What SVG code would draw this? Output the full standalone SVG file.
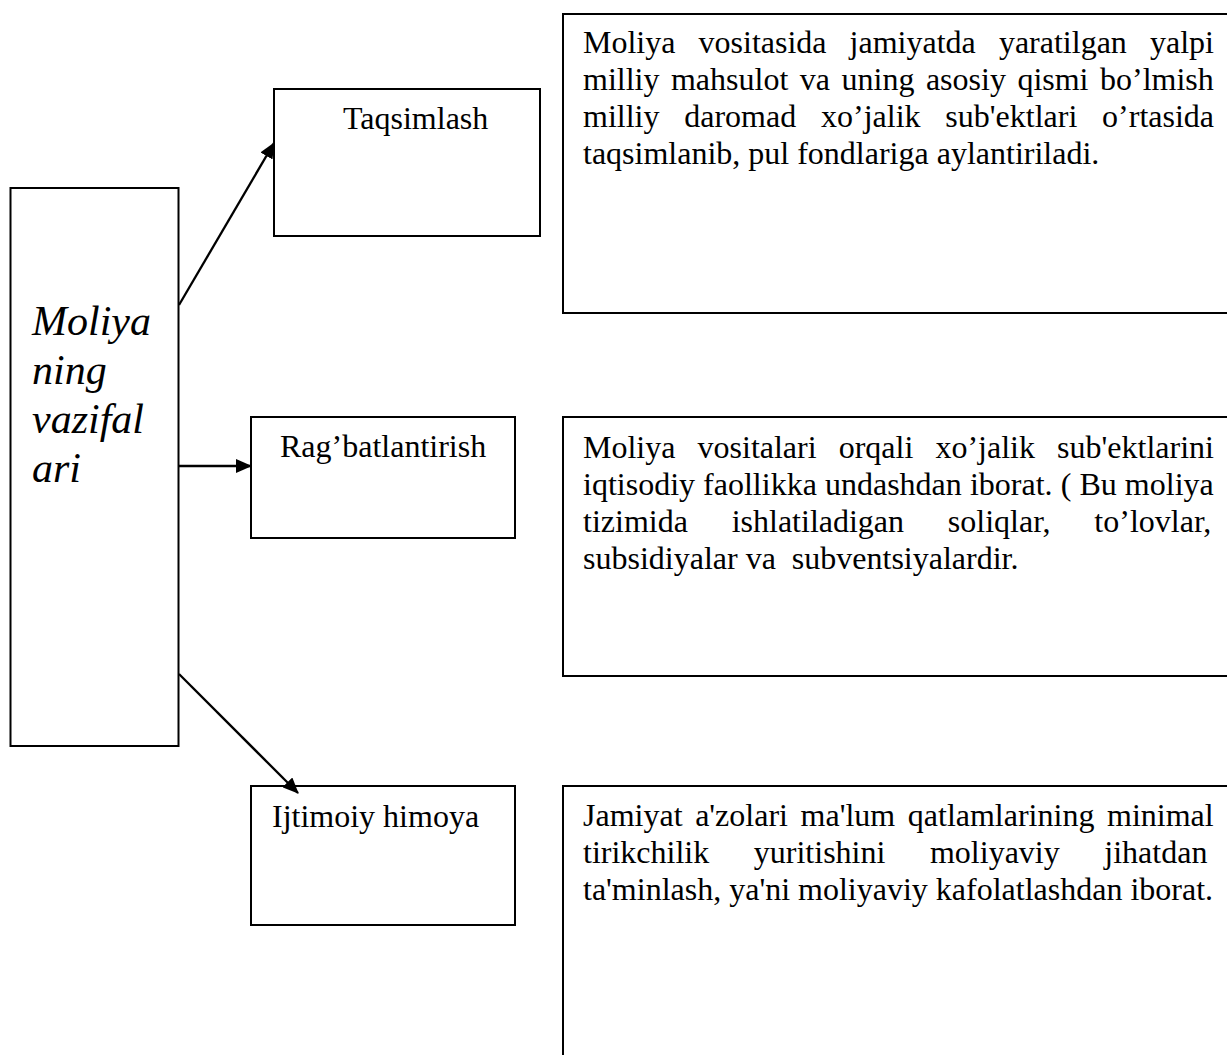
<svg xmlns="http://www.w3.org/2000/svg" width="1227" height="1055" viewBox="0 0 1227 1055">
<style>
.box{fill:#fff;stroke:#000;stroke-width:2}
.t{font-family:"Liberation Serif","Times New Roman",serif;font-size:32px;fill:#000}
.it{font-family:"Liberation Serif","Times New Roman",serif;font-size:42px;font-style:italic;fill:#000}
.con{stroke:#000;stroke-width:2.3;fill:none}
</style>
<defs>
<marker id="ah" markerUnits="userSpaceOnUse" markerWidth="16" markerHeight="14" refX="15" refY="7" orient="auto">
<path d="M0,0 L16,7 L0,14 z" fill="#000"/>
</marker>
</defs>
<rect width="1227" height="1055" fill="#fff"/>
<g id="main">
<rect class="box" x="10.5" y="188" width="168" height="558"/>
<text class="it" x="32" y="335">Moliya</text>
<text class="it" x="32" y="384">ning</text>
<text class="it" x="32" y="433">vazifal</text>
<text class="it" x="32" y="482">ari</text>
</g>
<g id="taqsimlash">
<rect class="box" x="274" y="89" width="266" height="147"/>
<text class="t" x="343" y="129">Taqsimlash</text>
</g>
<g id="ragbat">
<rect class="box" x="251" y="417" width="264" height="121"/>
<text class="t" x="280" y="457">Rag’batlantirish</text>
</g>
<g id="ijtimoiy">
<rect class="box" x="251" y="786" width="264" height="139"/>
<text class="t" x="272" y="827">Ijtimoiy himoya</text>
</g>
<g id="desc1">
<rect class="box" x="563" y="14" width="700" height="299"/>
<text class="t" x="583" y="53" word-spacing="15.1">Moliya vositasida jamiyatda yaratilgan yalpi</text>
<text class="t" x="583" y="90" word-spacing="3.5">milliy mahsulot va uning asosiy qismi bo’lmish</text>
<text class="t" x="583" y="127" word-spacing="16.8">milliy daromad xo’jalik sub'ektlari o’rtasida</text>
<text class="t" x="583" y="164">taqsimlanib, pul fondlariga aylantiriladi.</text>
</g>
<g id="desc2">
<rect class="box" x="563" y="417" width="700" height="259"/>
<text class="t" x="583" y="458" word-spacing="14.1">Moliya vositalari orqali xo’jalik sub'ektlarini</text>
<text class="t" x="583" y="495" word-spacing="0.1">iqtisodiy faollikka undashdan iborat. ( Bu moliya</text>
<text class="t" x="583" y="532" word-spacing="35.8">tizimida ishlatiladigan soliqlar, to’lovlar,</text>
<text class="t" x="583" y="569" xml:space="preserve">subsidiyalar va  subventsiyalardir.</text>
</g>
<g id="desc3">
<rect class="box" x="563" y="786" width="700" height="320"/>
<text class="t" x="583" y="826" word-spacing="4.6">Jamiyat a'zolari ma'lum qatlamlarining minimal</text>
<text class="t" x="583" y="863" word-spacing="36.6">tirikchilik yuritishini moliyaviy jihatdan</text>
<text class="t" x="583" y="900">ta'minlash, ya'ni moliyaviy kafolatlashdan iborat.</text>
</g>
<g id="connectors">
<line class="con" x1="179" y1="305" x2="274" y2="143" marker-end="url(#ah)"/>
<line class="con" x1="179" y1="466" x2="251" y2="466" marker-end="url(#ah)"/>
<line class="con" x1="179" y1="674" x2="298" y2="793" marker-end="url(#ah)"/>
</g>
</svg>
